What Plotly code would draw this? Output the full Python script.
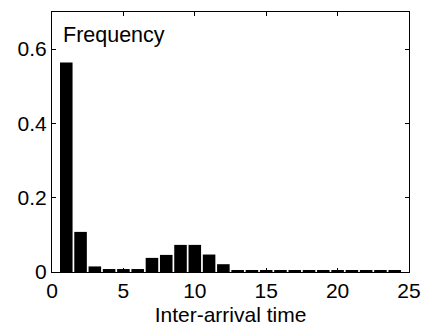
import plotly.graph_objects as go

inter_arrival = list(range(1, 25))
frequency = [0.564, 0.108, 0.015, 0.008, 0.008, 0.008, 0.038, 0.046, 0.073, 0.073,
             0.047, 0.021, 0.004, 0.004, 0.004, 0.004, 0.004, 0.004, 0.004, 0.004,
             0.004, 0.004, 0.004, 0.004]
x_ticks = [0, 5, 10, 15, 20, 25]
y_ticks = [0, 0.2, 0.4, 0.6]
y_tick_labels = ["0", "0.2", "0.4", "0.6"]

FONT = "Liberation Sans, Arial, sans-serif"

fig = go.Figure(go.Bar(
    x=inter_arrival, y=frequency, width=0.88,
    marker=dict(color="black", line=dict(width=0)),
))

axis_common = dict(showline=True, linecolor="black", linewidth=1, mirror="ticks",
                   ticks="inside", ticklen=4, tickcolor="black", tickwidth=1,
                   showgrid=False, zeroline=False, automargin=False,
                   tickfont=dict(family=FONT, size=21, color="black"))

fig.update_xaxes(range=[0, 25], tickvals=x_ticks,
                 title=dict(text="Inter-arrival time", font=dict(family=FONT, size=21, color="black"), standoff=6),
                 **axis_common)
fig.update_yaxes(range=[0, 0.7], tickvals=y_ticks, ticktext=y_tick_labels, **axis_common)

fig.add_annotation(text="Frequency", xref="paper", yref="paper", x=0.026, y=0.965,
                   xanchor="left", yanchor="top", showarrow=False,
                   font=dict(family=FONT, size=21.5, color="black"))

fig.update_layout(width=426, height=329, margin=dict(l=52, r=17, t=12, b=57),
                  plot_bgcolor="white", paper_bgcolor="white", showlegend=False,
                  font=dict(family=FONT, color="black"))

fig.write_html("out.html", config={"displayModeBar": False},
               post_script="document.body.style.margin='0';document.body.style.padding='0';")
